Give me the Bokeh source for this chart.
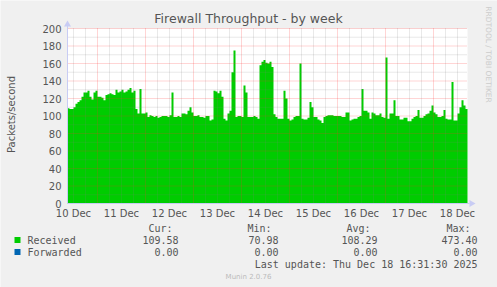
import math
from bokeh.plotting import figure
from bokeh.models import Range1d, FixedTicker, BoxAnnotation
from bokeh.core.properties import value
from bokeh.embed import file_html
from bokeh.resources import INLINE

# ---- data (hourly samples, hours counted from 10 Dec 00:00) ----
start_hour = 9.0
step_hours = 1.0
received = [
    109, 108, 108, 110, 114, 116, 118, 122, 127, 127,
    129, 122, 119, 127, 129, 122, 122, 121, 118, 124,
    125, 126, 125, 124, 130, 127, 128, 130, 127, 128,
    130, 132, 127, 129, 108, 103, 131, 103, 103, 104,
    99, 101, 100, 99, 100, 98, 99, 100, 100, 100,
    99, 101, 127, 99, 99, 100, 99, 103, 103, 102,
    106, 110, 104, 100, 100, 101, 99, 99, 98, 100,
    100, 95, 96, 129, 128, 126, 129, 122, 97, 95,
    103, 106, 150, 175, 99, 100, 100, 99, 135, 127,
    99, 99, 99, 100, 99, 97, 158, 162, 164, 161,
    160, 162, 156, 102, 99, 97, 97, 97, 129, 120,
    97, 95, 96, 99, 100, 100, 160, 97, 96, 96,
    98, 116, 110, 99, 99, 96, 95, 92, 99, 100,
    101, 101, 101, 100, 100, 100, 100, 99, 99, 104,
    104, 95, 96, 97, 97, 99, 100, 131, 106, 106,
    104, 97, 104, 103, 101, 101, 103, 99, 98, 167,
    97, 103, 103, 118, 100, 100, 96, 96, 98, 98,
    94, 94, 97, 99, 100, 107, 98, 98, 100, 102,
    103, 106, 112, 104, 102, 99, 99, 100, 107, 97,
    96, 96, 139, 95, 95, 103, 110, 118, 112, 108,
]
forwarded = [0.0] * len(received)

day_labels = ["10 Dec", "11 Dec", "12 Dec", "13 Dec", "14 Dec",
              "15 Dec", "16 Dec", "17 Dec", "18 Dec"]
label_hours = [12, 36, 60, 84, 108, 132, 156, 180, 204]
y_ticks = [0, 20, 40, 60, 80, 100, 120, 140, 160, 180, 200]

series_names = ["Received", "Forwarded"]
series_colors = ["#00CC00", "#0066B3"]
stat_headers = ["Cur:", "Min:", "Avg:", "Max:"]
received_stats = ["109.58", "70.98", "108.29", "473.40"]
forwarded_stats = ["0.00", "0.00", "0.00", "0.00"]
last_update = "Last update: Thu Dec 18 16:31:30 2025"
title_text = "Firewall Throughput - by week"
side_text = "RRDTOOL / TOBI OETIKER"
footer_text = "Munin 2.0.76"

BG = "#F0F0F0"
TXT = "#555555"
AXIS = "#C8CCF4"
MONO = value("DejaVu Sans Mono")
SANS = value("DejaVu Sans")

# ---- geometry: the frame covers the whole canvas; the chart area sits inside ----
W, H = 497, 287
FL, FB = 67, 203          # canvas position of (start_hour, 0)
PXH = 2.0                 # pixels per hour
PXV = 0.875               # pixels per packet/s
x_start = start_hour
x_end = start_hour + step_hours * len(received)
y_min, y_max = 0, 200


def dx(cx):
    return x_start + (cx - FL) / PXH


def dy(cy):
    return (FB - cy) / PXV


p = figure(width=W, height=H, output_backend="svg", toolbar_location=None,
           x_range=Range1d(dx(0), dx(W)), y_range=Range1d(dy(H), dy(0)),
           min_border=0, min_border_left=0, min_border_right=0,
           min_border_top=0, min_border_bottom=0)
p.background_fill_color = BG
p.border_fill_color = BG
p.outline_line_color = None
p.grid.visible = False

# white plotting area
p.add_layout(BoxAnnotation(left=x_start, right=x_end, bottom=y_min, top=y_max,
                           fill_color="#FFFFFF", fill_alpha=1.0, line_color=None,
                           level="underlay"))

xs = [start_hour + i * step_hours for i in range(len(received) + 1)]
rec = received + [received[-1]]
fwd_top = [r + f for r, f in zip(received, forwarded)]
fwd_top = fwd_top + [fwd_top[-1]]
p.varea_step(x=xs, y1=[0] * len(xs), y2=rec, step_mode="after",
             fill_color=series_colors[0])
p.varea_step(x=xs, y1=rec, y2=fwd_top, step_mode="after",
             fill_color=series_colors[1])

# dotted grid drawn over the area
midnights = list(range(24, int(x_end), 24))
six_hours = [h for h in range(12, int(x_end) + 1, 6) if h % 24 != 0]
minor_y = [v + 10 for v in y_ticks[:-1]]
p.segment(x0=six_hours, y0=[y_min] * len(six_hours), x1=six_hours,
          y1=[y_max] * len(six_hours), line_color="#808080", line_alpha=0.35,
          line_dash="1 1", line_width=1)
p.segment(x0=[x_start] * len(minor_y), y0=minor_y, x1=[x_end] * len(minor_y),
          y1=minor_y, line_color="#808080", line_alpha=0.35, line_dash="1 1",
          line_width=1)
p.segment(x0=midnights, y0=[y_min] * len(midnights), x1=midnights,
          y1=[y_max] * len(midnights), line_color="#FF3030", line_alpha=0.4,
          line_dash="1 1", line_width=1)
p.segment(x0=[x_start] * (len(y_ticks) - 1), y0=y_ticks[1:],
          x1=[x_end] * (len(y_ticks) - 1), y1=y_ticks[1:], line_color="#FF3030",
          line_alpha=0.4, line_dash="1 1", line_width=1)

# axes placed at the chart origin
p.xaxis.fixed_location = y_min
p.yaxis.fixed_location = x_start
p.xaxis.bounds = (x_start, dx(469))
p.yaxis.bounds = (y_min, dy(25))
p.xaxis.ticker = FixedTicker(ticks=label_hours)
p.xaxis.major_label_overrides = {h: l for h, l in zip(label_hours, day_labels)}
p.yaxis.ticker = FixedTicker(ticks=y_ticks)
for ax in (p.xaxis[0], p.yaxis[0]):
    ax.axis_line_color = AXIS
    ax.major_tick_line_color = None
    ax.minor_tick_line_color = None
    ax.major_tick_out = 0
    ax.major_tick_in = 0
    ax.major_label_text_font = "DejaVu Sans"
    ax.major_label_text_font_size = "10px"
    ax.major_label_text_color = TXT
p.xaxis.major_label_standoff = 4
p.yaxis.major_label_standoff = 6
p.yaxis.axis_label = "Packets/second"
p.yaxis.axis_label_text_font = "DejaVu Sans"
p.yaxis.axis_label_text_font_size = "10px"
p.yaxis.axis_label_text_font_style = "normal"
p.yaxis.axis_label_text_color = TXT
p.yaxis.axis_label_standoff = 22

# axis arrow heads
p.scatter(x=[x_start], y=[dy(24)], marker="triangle", size=7,
          fill_color=AXIS, line_color=None)
p.scatter(x=[dx(471)], y=[y_min], marker="triangle", size=7, angle=-math.pi / 2,
          fill_color=AXIS, line_color=None)

# title and side credit
p.text(x=[dx(248)], y=[dy(18)], text=[title_text], text_font=SANS,
       text_font_size="12.5px", text_align="center", text_baseline="middle",
       text_color=TXT)
p.text(x=[dx(487.5)], y=[dy(54)], text=[side_text], text_font=SANS,
       text_font_size="7.5px", text_align="center", text_baseline="middle",
       text_color="#CCCCCC", angle=-math.pi / 2)

# legend and statistics
header_right = [172, 271, 370, 470]
value_right = [178, 278, 377, 477]
header_y = 228
rows_y = [239.5, 251.5]

p.text(x=[dx(c) for c in header_right], y=[dy(header_y)] * 4, text=stat_headers,
       text_font=MONO, text_font_size="10px", text_align="right",
       text_baseline="middle", text_color=TXT)
p.scatter(x=[dx(17)] * 2, y=[dy(r) for r in rows_y], marker="square", size=6,
          fill_color=series_colors, line_color=None)
p.text(x=[dx(27)] * 2, y=[dy(r) for r in rows_y], text=series_names,
       text_font=MONO, text_font_size="10px", text_align="left",
       text_baseline="middle", text_color=TXT)
for stats, ry in zip([received_stats, forwarded_stats], rows_y):
    p.text(x=[dx(c) for c in value_right], y=[dy(ry)] * 4, text=stats,
           text_font=MONO, text_font_size="10px", text_align="right",
           text_baseline="middle", text_color=TXT)
p.text(x=[dx(477)], y=[dy(264)], text=[last_update], text_font=MONO,
       text_font_size="10px", text_align="right", text_baseline="middle",
       text_color=TXT)
p.text(x=[dx(248)], y=[dy(276)], text=[footer_text], text_font=SANS,
       text_font_size="7px", text_align="center", text_baseline="middle",
       text_color="#BBBBBB")

open("out.html", "w").write(file_html(p, INLINE))
